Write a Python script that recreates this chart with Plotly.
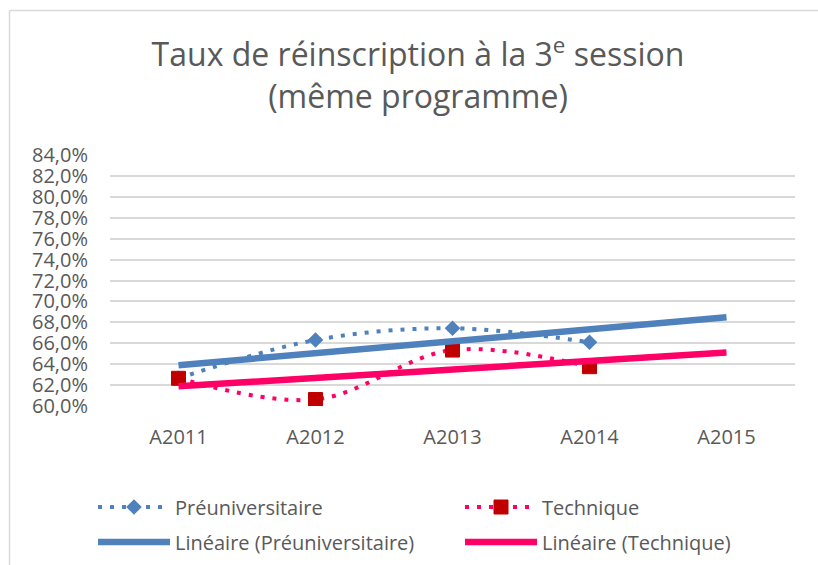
import numpy as np
import plotly.graph_objects as go

categories = ["A2011", "A2012", "A2013", "A2014", "A2015"]
preu = [0.6265, 0.6631, 0.6743, 0.6609]
tech = [0.6265, 0.6062, 0.6535, 0.6376]
y_ticks = [0.60 + 0.02 * i for i in range(13)]

BLUE = "#4F81BD"
PINK = "#FF0066"
DARKRED = "#C00000"
GRAY = "#595959"
FONT = "Open Sans"

W, H = 818, 565
L, T = 110, 155
R = W - 795
B = H - 406
pw, ph = W - L - R, H - T - B


def px(xp):  # pixel -> paper x
    return (xp - L) / pw


def py(yp):  # pixel -> paper y
    return (H - B - yp) / ph


def trend(vals):
    x = np.arange(len(vals))
    a, b = np.polyfit(x, vals, 1)
    xs = np.arange(len(categories))
    return list(a * xs + b)


fig = go.Figure()
fig.add_trace(go.Scatter(
    x=categories[:len(preu)], y=preu, name="Préuniversitaire", mode="lines+markers",
    line=dict(color=BLUE, width=4, dash="4px,8px", shape="spline", smoothing=1),
    marker=dict(symbol="diamond", size=12, color=BLUE), legend="legend"))
fig.add_trace(go.Scatter(
    x=categories[:len(tech)], y=tech, name="Technique", mode="lines+markers",
    line=dict(color=PINK, width=4, dash="4px,8px", shape="spline", smoothing=1),
    marker=dict(symbol="square", size=14, color=DARKRED, line=dict(color=DARKRED, width=1)),
    legend="legend2"))
fig.add_trace(go.Scatter(
    x=categories, y=trend(preu), name="Linéaire (Préuniversitaire)", mode="lines",
    line=dict(color=BLUE, width=6.5), legend="legend3"))
fig.add_trace(go.Scatter(
    x=categories, y=trend(tech), name="Linéaire (Technique)", mode="lines",
    line=dict(color=PINK, width=6.5), legend="legend4"))


def leg(xp, yp):
    return dict(x=xp / W, xref="container", xanchor="left",
                y=1 - yp / H, yref="container", yanchor="middle",
                itemwidth=72, font=dict(size=20, color=GRAY, family=FONT),
                bgcolor="rgba(0,0,0,0)")


border = dict(color="#D9D9D9", width=1.5)

fig.update_layout(
    width=W, height=H,
    margin=dict(l=L, r=R, t=T, b=B, autoexpand=False),
    paper_bgcolor="white", plot_bgcolor="white",
    separators=", ",
    font=dict(family=FONT, color=GRAY, size=20),
    title=dict(text="Taux de réinscription à la 3<sup>e</sup> session<br>(même programme)",
               x=418 / W, xref="container", xanchor="center",
               y=1 - 66 / H, yref="container", yanchor="top",
               font=dict(family=FONT, size=32, color=GRAY)),
    xaxis=dict(type="category", categoryorder="array", categoryarray=categories,
               range=[-0.5, len(categories) - 0.5], showgrid=False,
               showline=False, ticks="", ticklabelstandoff=17,
               tickfont=dict(size=20, color=GRAY), automargin=False),
    yaxis=dict(range=[0.60, 0.84], tickvals=y_ticks, tickformat=".1%",
               showgrid=True, gridcolor="#D9D9D9", gridwidth=1.5,
               zeroline=False, showline=False, ticks="", ticklabelstandoff=21,
               tickfont=dict(size=20, color=GRAY), automargin=False),
    showlegend=True,
    legend=leg(93, 507),
    legend2=leg(460, 507),
    legend3=leg(93, 542),
    legend4=leg(460, 542),
    shapes=[
        dict(type="line", xref="paper", yref="paper",
             x0=px(9.5), x1=px(9.5), y0=py(620), y1=py(10.5), line=border, layer="below"),
        dict(type="line", xref="paper", yref="paper",
             x0=px(9.5), x1=px(880), y0=py(10.5), y1=py(10.5), line=border, layer="below"),
    ],
)

fig.write_html(
    "out.html",
    config={"displayModeBar": False},
    post_script="document.body.style.margin='0';"
                "document.body.style.overflow='hidden';"
                "document.documentElement.style.overflow='hidden';",
)
